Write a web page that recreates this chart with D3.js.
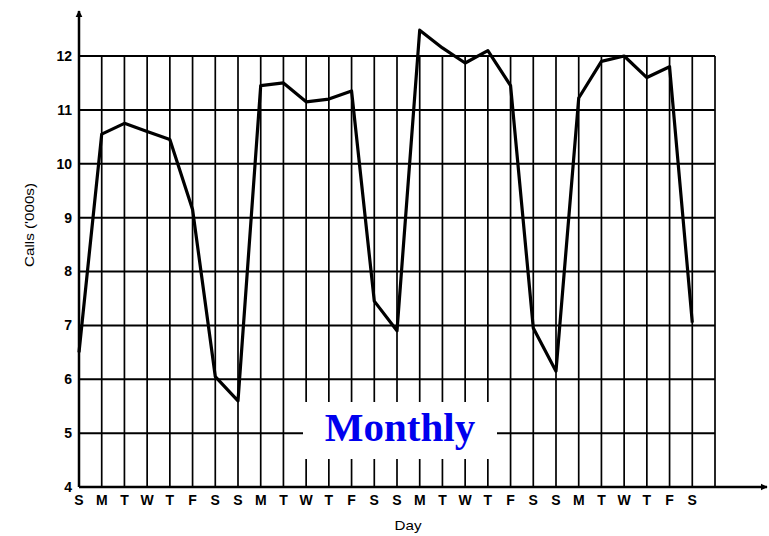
<!DOCTYPE html>
<html><head><meta charset="utf-8">
<script src="https://cdn.jsdelivr.net/npm/d3@7"></script>
<style>body{margin:0;background:#fff}svg{display:block}</style>
</head><body>
<script>
const days = ["S","M","T","W","T","F","S","S","M","T","W","T","F","S","S","M","T","W","T","F","S","S","M","T","W","T","F","S"];
const calls = [6.5,10.55,10.75,10.6,10.45,9.15,6.05,5.6,11.45,11.5,11.15,11.2,11.35,7.45,6.9,12.48,12.15,11.87,12.1,11.45,6.95,6.15,11.22,11.9,12.0,11.6,11.8,7.05];
const yTicks = [4,5,6,7,8,9,10,11,12];
const title = "Monthly";
const yLabel = "Calls ('000s)";
const xLabel = "Day";

const W = 769, H = 536;
const svg = d3.select("body").append("svg").attr("width", W).attr("height", H);
const x = d3.scaleLinear().domain([0, 28]).range([79, 715]);
const y = d3.scaleLinear().domain([4, 12]).range([487, 56]);

const defs = svg.append("defs");
defs.append("marker").attr("id","arr").attr("viewBox","0 0 10 10").attr("refX",9).attr("refY",5)
  .attr("markerWidth",7).attr("markerHeight",8).attr("orient","auto-start-reverse").attr("markerUnits","userSpaceOnUse")
  .append("path").attr("d","M0,0 L10,5 L0,10 z").attr("fill","#000");

const g = svg.append("g");
// horizontal grid
g.selectAll("line.h").data(yTicks.slice(1)).join("line")
  .attr("x1", x(0)).attr("x2", x(28)).attr("y1", d => y(d)).attr("y2", d => y(d))
  .attr("stroke","#000").attr("stroke-width",2);
// vertical grid
g.selectAll("line.v").data(d3.range(1, 29)).join("line")
  .attr("x1", d => x(d)).attr("x2", d => x(d)).attr("y1", y(4)).attr("y2", y(12))
  .attr("stroke","#000").attr("stroke-width",1.7);

// axes
g.append("line").attr("x1", x(0)).attr("x2", x(0)).attr("y1", y(4)).attr("y2", 11)
  .attr("stroke","#000").attr("stroke-width",2.5).attr("marker-end","url(#arr)");
g.append("line").attr("x1", x(0)).attr("x2", 767).attr("y1", y(4)).attr("y2", y(4))
  .attr("stroke","#000").attr("stroke-width",2.5).attr("marker-end","url(#arr)");

// y tick labels
g.selectAll("text.yt").data(yTicks).join("text")
  .attr("x", 72).attr("y", d => y(d)).attr("dy","0.35em").attr("text-anchor","end")
  .attr("font-family","Liberation Sans, Arial, sans-serif").attr("font-weight","bold").attr("font-size",14)
  .text(d => d);
// x tick labels
g.selectAll("text.xt").data(days).join("text")
  .attr("x", (d,i) => x(i)).attr("y", 505).attr("text-anchor","middle")
  .attr("font-family","Liberation Sans, Arial, sans-serif").attr("font-weight","bold").attr("font-size",14)
  .text(d => d);

// axis titles
g.append("text").attr("transform","translate(34,225) rotate(-90)").attr("text-anchor","middle")
  .attr("font-family","Liberation Sans, Arial, sans-serif").attr("font-size",13)
  .attr("textLength",84).attr("lengthAdjust","spacingAndGlyphs").text(yLabel);
g.append("text").attr("x", 408).attr("y", 530).attr("text-anchor","middle")
  .attr("font-family","Liberation Sans, Arial, sans-serif").attr("font-size",13)
  .attr("textLength",27).attr("lengthAdjust","spacingAndGlyphs").text(xLabel);

// data line
const line = d3.line().x((d,i) => x(i)).y(d => y(d));
g.append("path").datum(calls).attr("d", line).attr("fill","none")
  .attr("stroke","#000").attr("stroke-width",3.2).attr("stroke-linejoin","round");

// title box
g.append("rect").attr("x",303).attr("y",402).attr("width",194).attr("height",57).attr("fill","#fff");
g.append("text").attr("x",400).attr("y",441).attr("text-anchor","middle")
  .attr("font-family","Liberation Serif, Times New Roman, serif").attr("font-weight","bold").attr("font-size",41)
  .attr("fill","#0000ee").text(title);
</script>
</body></html>
